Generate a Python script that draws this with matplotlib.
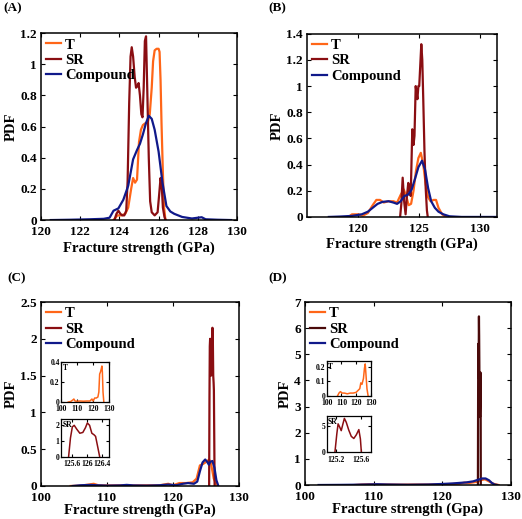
import matplotlib
matplotlib.use("Agg")
import matplotlib.pyplot as plt
from matplotlib.ticker import FuncFormatter

plt.rcParams["font.family"] = ["Liberation Serif", "DejaVu Serif"]
plt.rcParams["font.weight"] = "bold"

C_T = "#ff6618"
C_SR = "#8a0e12"
C_CMP = "#10198a"

# ---- panel A ----
a_t_x = [123.7, 123.9, 124.1, 124.3, 124.45, 124.6, 124.7, 124.8, 124.9, 125.0, 125.1, 125.2, 125.3,
         125.45, 125.55, 125.65, 125.72, 125.8, 125.9, 126.0, 126.05, 126.1, 126.15, 126.22, 126.28, 126.35]
a_t_y = [0, 0.03, 0.03, 0.04, 0.08, 0.2, 0.27, 0.24, 0.26, 0.5, 0.58, 0.61, 0.62,
         0.63, 0.68, 0.85, 1.02, 1.09, 1.1, 1.1, 1.08, 0.9, 0.62, 0.3, 0.08, 0]
a_sr_x = [123.75, 123.85, 123.95, 124.05, 124.15, 124.25, 124.35, 124.42, 124.5, 124.57, 124.63, 124.7,
          124.78, 124.85, 124.92, 124.98, 125.05, 125.12, 125.18, 125.24, 125.3, 125.36, 125.42, 125.5,
          125.57, 125.65, 125.8, 125.95, 126.02, 126.1, 126.16, 126.22, 126.3, 126.36]
a_sr_y = [0, 0.04, 0.06, 0.04, 0.03, 0.03, 0.06, 0.25, 0.75, 1.05, 1.11, 1.05,
          0.92, 0.85, 0.86, 0.88, 0.8, 0.68, 0.66, 0.85, 1.15, 1.18, 0.85, 0.4,
          0.12, 0.05, 0.03, 0.05, 0.15, 0.27, 0.22, 0.08, 0.02, 0]
a_c_x = [120.5, 121.5, 122.5, 123.2, 123.5, 123.7, 123.95, 124.2, 124.45, 124.7, 124.9, 125.05, 125.2,
         125.35, 125.5, 125.65, 125.8, 126.0, 126.2, 126.4, 126.6, 126.8, 127.2, 127.7, 128.0, 128.2,
         128.4, 129.0, 129.7]
a_c_y = [0, 0.002, 0.005, 0.008, 0.015, 0.06, 0.075, 0.13, 0.22, 0.39, 0.45, 0.49, 0.55,
         0.62, 0.67, 0.65, 0.58, 0.44, 0.24, 0.09, 0.055, 0.04, 0.02, 0.01, 0.015, 0.018,
         0.005, 0.002, 0]

# ---- panel B ----
b_t_x = [119.2, 119.5, 120.0, 120.4, 120.8, 121.2, 121.5, 121.8, 122.1, 122.5, 122.9, 123.2, 123.5,
         123.75, 123.95, 124.15, 124.35, 124.55, 124.75, 124.95, 125.15, 125.35, 125.55, 125.75, 125.95,
         126.2, 126.4, 126.6, 126.9, 127.2]
b_t_y = [0, 0.02, 0.02, 0.01, 0.03, 0.09, 0.13, 0.13, 0.11, 0.12, 0.12, 0.11, 0.17,
         0.21, 0.16, 0.09, 0.1, 0.2, 0.35, 0.45, 0.49, 0.4, 0.25, 0.15, 0.12,
         0.13, 0.13, 0.07, 0.02, 0]
b_sr_x = [123.45, 123.55, 123.66, 123.78, 123.9, 124.0, 124.12, 124.22, 124.32, 124.45, 124.55, 124.63,
          124.73, 124.8, 124.87, 124.95, 125.02, 125.1, 125.19, 125.27, 125.35, 125.45, 125.55, 125.65, 125.72]
b_sr_y = [0, 0.1, 0.3, 0.12, 0.02, 0.15, 0.26, 0.2, 0.16, 0.67, 0.55, 0.62,
          1.0, 0.95, 0.9, 1.0, 1.0, 1.15, 1.32, 1.2, 0.9, 0.5, 0.22, 0.05, 0]
b_c_x = [117.6, 118.5, 119.5, 120.3, 120.8, 121.2, 121.6, 122.0, 122.5, 122.9, 123.2, 123.5, 123.8,
         124.1, 124.4, 124.7, 124.95, 125.25, 125.5, 125.75, 126.0, 126.3, 126.6, 127.0, 127.5, 128.5, 131.4]
b_c_y = [0, 0.003, 0.008, 0.02, 0.04, 0.07, 0.1, 0.115, 0.12, 0.11, 0.1, 0.12, 0.16,
         0.17, 0.21, 0.3, 0.38, 0.43, 0.36, 0.22, 0.12, 0.07, 0.04, 0.02, 0.005, 0, 0]

# ---- panel C ----
c_t_x = [104.5, 106, 107.3, 108, 108.7, 110, 112, 114, 116, 118, 119.3, 120, 121, 122, 123, 123.6,
         124.1, 124.6, 125.1, 125.5, 125.8, 126.2, 126.7]
c_t_y = [0, 0.005, 0.02, 0.03, 0.01, 0.008, 0.01, 0.008, 0.01, 0.01, 0.03, 0.01, 0.04, 0.04, 0.05, 0.1,
         0.28, 0.3, 0.33, 0.36, 0.3, 0.1, 0]
c_sr_x = [125.5, 125.55, 125.6, 125.65, 125.72, 125.8, 125.88, 125.95, 126.0, 126.06, 126.12, 126.18,
          126.22, 126.28, 126.33]
c_sr_y = [0, 1.2, 1.9, 2.0, 1.75, 1.5, 1.55, 1.85, 2.15, 2.0, 1.5, 1.4, 1.3, 0.6, 0]
c_c_x = [104.8, 106, 107.5, 108.5, 110, 112, 113, 114, 116, 118, 119.3, 120.5, 121.5, 122.3, 123.2,
         123.7, 124.1, 124.5, 124.9, 125.2, 125.45, 125.7, 126.0, 126.3, 126.6, 126.9]
c_c_y = [0, 0.01, 0.015, 0.01, 0.005, 0.008, 0.015, 0.008, 0.005, 0.01, 0.02, 0.01, 0.03, 0.04, 0.03,
         0.06, 0.2, 0.32, 0.36, 0.33, 0.29, 0.33, 0.34, 0.25, 0.08, 0]

# ---- panel D ----
d_t_x = [107.3, 108.3, 109.3, 110.5, 112, 114, 116, 118, 120, 121.5, 122.5, 123.2, 124, 125, 125.7,
         126.2, 126.7, 127.4, 128.2]
d_t_y = [0, 0.02, 0.03, 0.02, 0.02, 0.015, 0.02, 0.02, 0.025, 0.04, 0.05, 0.09, 0.08, 0.12, 0.19,
         0.22, 0.15, 0.05, 0]
d_sr_x = [125.18, 125.21, 125.23, 125.255, 125.28, 125.305, 125.33, 125.36, 125.4, 125.44, 125.48,
          125.52, 125.56, 125.585, 125.6]
d_sr_y = [0, 3.5, 5.4, 4.8, 4.1, 5.3, 6.45, 5.7, 4.2, 3.0, 2.6, 3.3, 4.3, 2.5, 0]
d_c_x = [102, 105, 107, 109, 110.5, 112, 115, 118, 120, 121.5, 122.5, 123.5, 124.5, 125.2, 125.8,
         126.3, 126.8, 127.2, 127.6, 128]
d_c_y = [0, 0.005, 0.01, 0.02, 0.03, 0.02, 0.01, 0.02, 0.04, 0.06, 0.08, 0.1, 0.14, 0.2, 0.25,
         0.25, 0.18, 0.08, 0.02, 0]

fmt = FuncFormatter(lambda v, p: f"{v:g}")


def style_axes(ax, fs, lw=1.1, tl=3, pad=3):
    ax.tick_params(direction="in", top=True, right=True, length=tl, width=0.8,
                   labelsize=fs, pad=pad)
    for s in ax.spines.values():
        s.set_linewidth(lw)
    ax.xaxis.set_major_formatter(fmt)
    ax.yaxis.set_major_formatter(fmt)


def main_panel(rect, tx, ty, sx, sy, cx, cy, xlim, ylim, xticks, yticks, xlabel,
               sr_color=C_SR, xpad=4.5, xlpad=2):
    ax = fig.add_axes(rect)
    ax.plot(tx, ty, color=C_T, lw=1.6, label="T")
    ax.plot(sx, sy, color=sr_color, lw=1.6, label="SR")
    ax.plot(cx, cy, color=C_CMP, lw=1.6, label="Compound")
    ax.set_xlim(*xlim)
    ax.set_ylim(*ylim)
    ax.set_xticks(xticks)
    ax.set_yticks(yticks)
    style_axes(ax, 9.5)
    ax.tick_params(axis="x", pad=xpad)
    ax.set_xlabel(xlabel, fontsize=10.5, fontweight="bold", labelpad=xlpad)
    ax.set_ylabel("PDF", fontsize=10.5, fontweight="bold", labelpad=2)
    ax.legend(loc="upper left", frameon=False, handlelength=1.0, handletextpad=0.3,
              borderaxespad=0.15, labelspacing=0.15, borderpad=0.2,
              prop={"size": 10.5, "weight": "bold"})
    return ax


def inset(rect, x, y, color, xlim, ylim, xticks, yticks, label):
    ax = fig.add_axes(rect)
    ax.plot(x, y, color=color, lw=1.1)
    ax.set_xlim(*xlim)
    ax.set_ylim(*ylim)
    ax.set_xticks(xticks)
    ax.set_yticks(yticks)
    style_axes(ax, 5.5, lw=0.9, tl=2, pad=1)
    ax.tick_params(axis="x", pad=2.5)
    ax.text(0.03, 0.95, label, transform=ax.transAxes, ha="left", va="top",
            fontsize=5.5, fontweight="bold")
    return ax


fig = plt.figure(figsize=(5.22, 5.19), dpi=100)

main_panel([0.0785, 0.576, 0.3755, 0.360], a_t_x, a_t_y, a_sr_x, a_sr_y, a_c_x, a_c_y,
           (120, 130), (0, 1.2), [120, 122, 124, 126, 128, 130],
           [0, 0.2, 0.4, 0.6, 0.8, 1, 1.2], "Fracture strength (GPa)", xlpad=2)
main_panel([0.588, 0.582, 0.364, 0.353], b_t_x, b_t_y, b_sr_x, b_sr_y, b_c_x, b_c_y,
           (115.8, 131.4), (0, 1.4), [120, 125, 130],
           [0, 0.2, 0.4, 0.6, 0.8, 1, 1.2, 1.4], "Fracture strength (GPa)", xlpad=2)
main_panel([0.0785, 0.0636, 0.379, 0.3545], c_t_x, c_t_y, c_sr_x, c_sr_y, c_c_x, c_c_y,
           (100, 130), (0, 2.5), [100, 110, 120, 130],
           [0, 0.5, 1, 1.5, 2, 2.5], "Fracture strength (GPa)", xpad=4.5, xlpad=-0.5)
main_panel([0.584, 0.0655, 0.395, 0.3526], d_t_x, d_t_y, d_sr_x, d_sr_y, d_c_x, d_c_y,
           (100, 130), (0, 7), [100, 110, 120, 130],
           [0, 1, 2, 3, 4, 5, 6, 7], "Fracture strength (Gpa)", sr_color="#4a0a0a",
           xpad=4.5, xlpad=-0.5)

inset([0.117, 0.2254, 0.092, 0.077], c_t_x, c_t_y, C_T, (100, 130), (0, 0.4),
      [100, 110, 120, 130], [0, 0.2, 0.4], "T")
inset([0.117, 0.1195, 0.092, 0.0732], c_sr_x, c_sr_y, C_SR, (125.3, 126.58), (0, 2.4),
      [125.6, 126, 126.4], [0, 1, 2], "SR")
inset([0.626, 0.237, 0.0843, 0.0674], d_t_x, d_t_y, C_T, (100, 130), (0, 0.24),
      [100, 110, 120, 130], [0, 0.1, 0.2], "T")
inset([0.626, 0.129, 0.0843, 0.0694], d_sr_x, d_sr_y, C_SR, (125.05, 125.75), (0, 6.9),
      [125.2, 125.6], [0, 5], "SR")

for lab, x, y in [("(A)", 3, 8), ("(B)", 268, 8), ("(C)", 7, 278), ("(D)", 268, 278)]:
    fig.text(x / 522, 1 - y / 519, lab, fontsize=9.5, fontweight="bold", ha="left", va="center")

fig.savefig("out.png", dpi=100)
